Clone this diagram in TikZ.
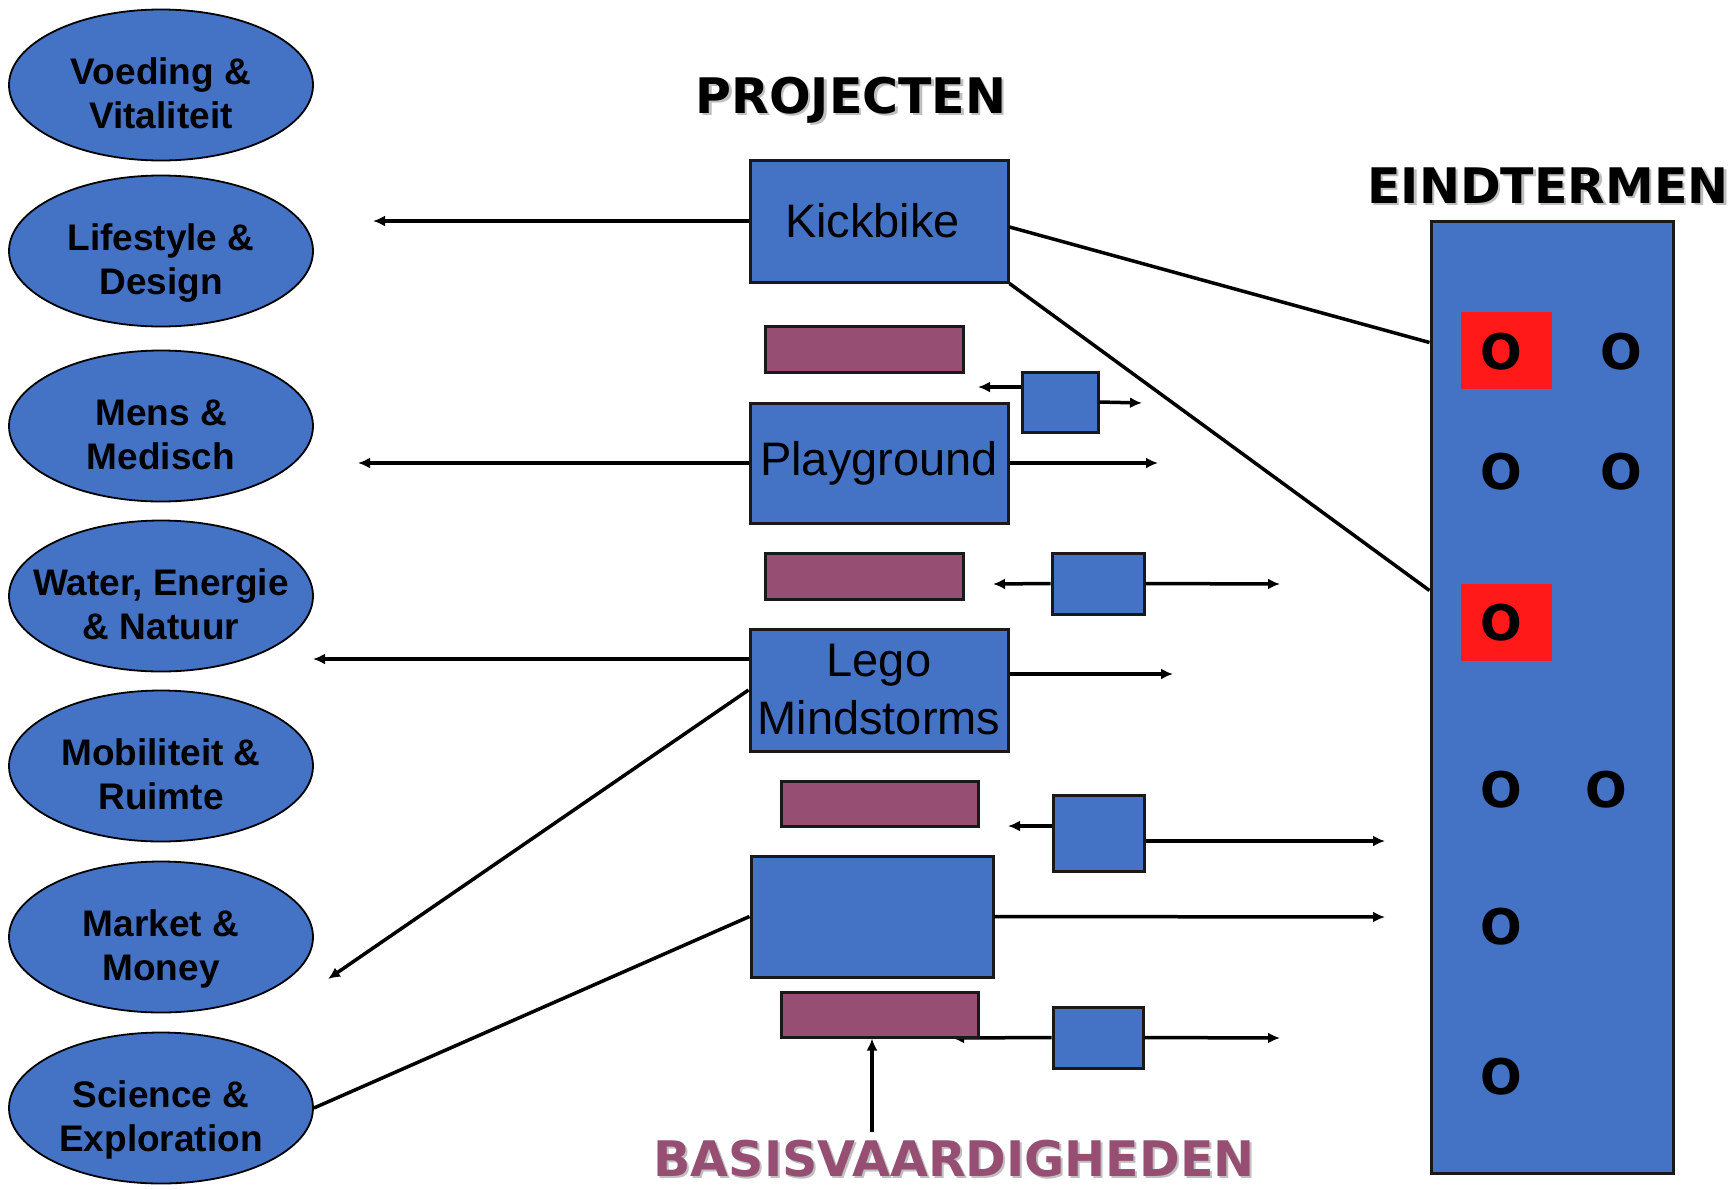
\documentclass[tikz,border=0pt]{standalone}
\usepackage{fontspec}
\newfontfamily\lib{Liberation Sans}
\newfontfamily\dvs{DejaVu Sans}
\usetikzlibrary{shapes.geometric,arrows.meta}
\definecolor{pblue}{RGB}{68,114,196}
\definecolor{maroon}{RGB}{150,79,114}
\definecolor{rred}{RGB}{255,25,25}
\begin{document}
\begin{tikzpicture}[x=1pt,y=-1pt,
  theme/.style={ellipse, draw=black, line width=1.8pt, fill=pblue, minimum width=304pt, minimum height=151pt, inner sep=0pt},
  themetext/.style={align=center, yshift=-13pt, font=\lib\bfseries\fontsize{37}{44}\selectfont},
  proj/.style={draw=black!90, line width=3pt, fill=pblue, inner sep=0pt, font=\lib\fontsize{47}{58}\selectfont, align=center},
  bar/.style={draw=black!90, line width=3pt, fill=maroon, inner sep=0pt, minimum width=198pt, minimum height=46pt},
  sq/.style={draw=black!90, line width=3pt, fill=pblue, inner sep=0pt},
  conn/.style={line width=3.5pt, -{Latex[length=12pt,width=11pt]}},
  plain/.style={line width=3.5pt},
  title/.style={font=\dvs\bfseries\fontsize{49}{58}\selectfont, anchor=base, inner sep=0pt, text depth=0pt},
  shadowt/.style={title, text=black!25},
  oo/.style={font=\dvs\bfseries\fontsize{49}{58}\selectfont, inner sep=0pt}
]
\useasboundingbox (0,0) rectangle (1734,1189);
\fill[white] (0,0) rectangle (1734,1189);

% themes
\node[theme, label={[themetext]center:\strut Voeding \&\\\strut Vitaliteit}] (voe) at (161,85) {};
\node[theme, label={[themetext]center:\strut Lifestyle \&\\\strut Design}] (life) at (161,251) {};
\node[theme, label={[themetext]center:\strut Mens \&\\\strut Medisch}] (mens) at (161,426) {};
\node[theme, label={[themetext]center:\strut Water, Energie\\\strut \& Natuur}] (water) at (161,596) {};
\node[theme, label={[themetext]center:\strut Mobiliteit \&\\\strut Ruimte}] (mob) at (161,766) {};
\node[theme, label={[themetext]center:\strut Market \&\\\strut Money}] (mkt) at (161,937) {};
\node[theme, label={[themetext]center:\strut Science \&\\\strut Exploration}] (sci) at (161,1108) {};

% titles
\node[shadowt] at (853.5,115.5) {PROJECTEN};
\node[title] (tproj) at (851,113) {PROJECTEN};
\node[shadowt] at (1550.5,205.5) {EINDTERMEN};
\node[title] (teind) at (1548,203) {EINDTERMEN};
\node[shadowt] at (956,1178) {BASISVAARDIGHEDEN};
\node[title, text=maroon] (tbasis) at (954,1176) {BASISVAARDIGHEDEN};

% project boxes
\node[proj, minimum width=258pt, minimum height=122pt] (kick) at (879,221) {Kickbike\hspace*{13pt}};
\node[proj, minimum width=258pt, minimum height=120pt] (play) at (879,463) {Playground};
\node[proj, minimum width=258pt, minimum height=122pt] (lego) at (879,690) {Lego\\Mindstorms};
\node[proj, minimum width=242pt, minimum height=121pt] (box4) at (872,916.5) {};

% small squares
\node[sq, minimum width=76pt, minimum height=60pt] (s1) at (1060,402) {};
\node[sq, minimum width=92pt, minimum height=61pt] (s2) at (1098,583.5) {};
\node[sq, minimum width=91pt, minimum height=76pt] (s3) at (1098.5,833) {};
\node[sq, minimum width=90pt, minimum height=61pt] (s4) at (1098,1037.5) {};

% bars
\node[bar] (b1) at (864,349) {};
\node[bar] (b2) at (864,576) {};
\node[bar, minimum width=197pt, minimum height=45pt] (b3) at (879.5,803.5) {};

% arrow of s4 that runs under bar 4
\coordinate (s4l) at (952,1038);
\draw[conn] (s4.west) -- (s4l);
\node[bar, minimum width=197pt, minimum height=45pt] (b4) at (879.5,1014.5) {};

% eindtermen box
\node[sq, minimum width=242pt, minimum height=952pt] (eind) at (1552,697) {};
\node[fill=rred, minimum width=91pt, minimum height=77pt, inner sep=0pt] (r1) at (1506.5,350.5) {};
\node[fill=rred, minimum width=91pt, minimum height=77pt, inner sep=0pt] (r2) at (1506.5,622.5) {};
\node[oo] (o11) at (1501,352) {O};
\node[oo] (o12) at (1621,352) {O};
\node[oo] (o21) at (1501,472) {O};
\node[oo] (o22) at (1621,472) {O};
\node[oo] (o31) at (1501,623) {O};
\node[oo] (o41) at (1501,790) {O};
\node[oo] (o42) at (1606,790) {O};
\node[oo] (o51) at (1501,927) {O};
\node[oo] (o61) at (1501,1077) {O};

% free ends
\coordinate (kickL) at (373,221);
\coordinate (playL) at (358,463);
\coordinate (playR) at (1158,463);
\coordinate (legoL) at (313,659);
\coordinate (legoR) at (1173,674);
\coordinate (legoD) at (328,979);
\coordinate (box4R) at (1385,917);
\coordinate (s1L) at (978,387);
\coordinate (s1R) at (1142,403);
\coordinate (s2L) at (993,584);
\coordinate (s2R) at (1280,584);
\coordinate (s3L) at (1008,826);
\coordinate (s3R) at (1385,841);
\coordinate (s4R) at (1280,1038);
\coordinate (basisTop) at (872,1132);

% connectors
\draw[conn] (kick.west) -- (kickL);
\draw[conn] (play.west) -- (playL);
\draw[conn] (play.east) -- (playR);
\draw[conn] ([yshift=31pt]lego.west) -- (legoL);
\draw[conn] ([yshift=16pt]lego.east) -- (legoR);
\draw[conn] (lego.west) -- (legoD);
\draw[plain] (box4.west) -- (sci.east);
\draw[conn] (box4.east) -- (box4R);
\draw[conn] ([yshift=15pt]s1.west) -- (s1L);
\draw[conn] (s1.east) -- (s1R);
\draw[conn] (s2.west) -- (s2L);
\draw[conn] (s2.east) -- (s2R);
\draw[conn] ([yshift=7pt]s3.west) -- (s3L);
\draw[conn] ([yshift=-8pt]s3.east) -- (s3R);
\draw[conn] (s4.east) -- (s4R);
\draw[conn] (basisTop) -- (basisTop |- b4.south);
\draw[plain] ([yshift=-6pt]kick.east) -- ([yshift=-123pt]eind.north west);
\draw[plain] (kick.south east) -- ([yshift=-371pt]eind.north west);
\end{tikzpicture}
\end{document}
